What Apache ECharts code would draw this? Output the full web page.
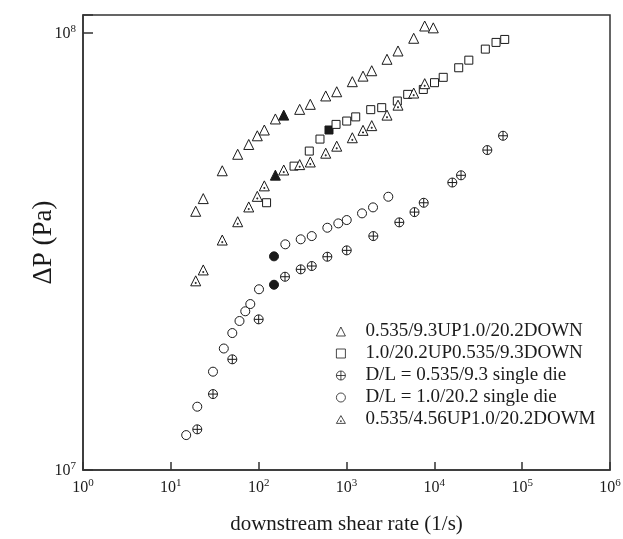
<!DOCTYPE html>
<html><head><meta charset="utf-8">
<script src="https://cdn.jsdelivr.net/npm/echarts@6/dist/echarts.min.js"></script>
<style>html,body{margin:0;padding:0;background:#fff}#c{width:623px;height:539px}</style>
</head><body><div id="c"></div><script>
// ---- data ----
const seriesNames = [
  '0.535/9.3UP1.0/20.2DOWN',
  '1.0/20.2UP0.535/9.3DOWN',
  'D/L = 0.535/9.3 single die',
  'D/L = 1.0/20.2 single die',
  '0.535/4.56UP1.0/20.2DOWM'
];
const xTickExponents = [0, 1, 2, 3, 4, 5, 6];
const yTickExponents = [7, 8];

const triX = [19.2,23.4,38.5,57.7,77.1,96.5,116,155,193,293,387,580,774,1165,1542,1937,2891,3857,5823,7767,9730];
const triY = [3.91e7,4.18e7,4.84e7,5.28e7,5.56e7,5.82e7,6.00e7,6.36e7,6.49e7,6.69e7,6.87e7,7.18e7,7.34e7,7.74e7,7.97e7,8.20e7,8.71e7,9.10e7,9.73e7,1.038e8,1.028e8];
const triFilled = 8;

const sqX = [123,253,377,499,632,760,1006,1273,1887,2517,3789,4977,7490,10050,12620,18950,24700,38060,50390,63280];
const sqY = [4.09e7,4.96e7,5.37e7,5.72e7,6.00e7,6.18e7,6.29e7,6.43e7,6.68e7,6.75e7,6.99e7,7.24e7,7.43e7,7.70e7,7.92e7,8.33e7,8.67e7,9.19e7,9.52e7,9.67e7];
const sqFilled = 4;

const crossX = [20,30.2,50.1,100,149.5,199.5,301,402,605,1006,2020,3993,5948,7570,16020,20130,40110,60530];
const crossY = [1.239e7,1.492e7,1.792e7,2.212e7,2.655e7,2.769e7,2.879e7,2.930e7,3.077e7,3.182e7,3.431e7,3.688e7,3.893e7,4.089e7,4.549e7,4.726e7,5.398e7,5.821e7];
const crossFilled = 4;

const circX = [14.96,20,30.2,40.1,50.1,60.5,70.4,80.3,100.9,149.5,201,301,402,605,807,1006,1502,2004,2992];
const circY = [1.202e7,1.396e7,1.679e7,1.897e7,2.058e7,2.193e7,2.308e7,2.398e7,2.592e7,3.083e7,3.285e7,3.373e7,3.431e7,3.585e7,3.668e7,3.733e7,3.867e7,3.991e7,4.221e7];
const circFilled = 9;

const dotTriX = [19.2,23.4,38.5,57.7,77.1,96.5,116,155,193,293,387,580,774,1165,1542,1937,2891,3857,5823,7767];
const dotTriY = [2.71e7,2.87e7,3.36e7,3.70e7,4.00e7,4.23e7,4.47e7,4.73e7,4.86e7,5.00e7,5.07e7,5.31e7,5.51e7,5.76e7,5.99e7,6.14e7,6.49e7,6.84e7,7.29e7,7.66e7];
const dotTriFilled = 7;

// ---- styling ----
const FONT = 'Liberation Serif';
const INK = '#1a1a1a';
const crossPath = 'path://M-10,0 A10,10 0 1,0 10,0 A10,10 0 1,0 -10,0 Z M-10,0 L10,0 M0,-10 L0,10';
const dotTriPath = 'path://M0,-10 L11,9 L-11,9 Z M-1,2.5 L1,2.5 L1,4.5 L-1,4.5 Z';

function pts(xs, ys, filled) {
  return xs.map((v, i) => i === filled
    ? { value: [v, ys[i]], itemStyle: { color: INK } }
    : { value: [v, ys[i]] });
}
function sc(name, symbol, size, xs, ys, filled) {
  return {
    type: 'scatter', name, symbol, symbolSize: size,
    data: pts(xs, ys, filled),
    itemStyle: { color: '#fff', borderColor: INK, borderWidth: 1, opacity: 1 },
    emphasis: { disabled: true }, silent: true
  };
}
function isPow10(v) { const l = Math.log10(v); return Math.abs(l - Math.round(l)) < 1e-6; }
const rich = {
  b: { fontFamily: FONT, fontSize: 16, color: INK, lineHeight: 18, verticalAlign: 'bottom' },
  s: { fontFamily: FONT, fontSize: 11, color: INK, lineHeight: 11, verticalAlign: 'top' }
};
function powLabel(exps) {
  return function (v) {
    if (!isPow10(v)) return '';
    const e = Math.round(Math.log10(v));
    if (exps.indexOf(e) < 0) return '';
    return '{b|10}{s|' + e + '}';
  };
}

const chart = echarts.init(document.getElementById('c'), null, { renderer: 'canvas' });
chart.setOption({
  backgroundColor: '#fff',
  animation: false,
  grid: { left: 83, right: 13, top: 15, bottom: 69, show: true, borderColor: '#333', borderWidth: 1.5,
          backgroundColor: 'transparent', outerBoundsMode: 'none', containLabel: false },
  xAxis: {
    type: 'log', logBase: 10, min: 1, max: 1e6,
    name: 'downstream shear rate (1/s)', nameLocation: 'middle', nameGap: 44,
    nameMoveOverlap: false,
    nameTextStyle: { fontFamily: FONT, fontSize: 21, color: INK },
    axisLine: { lineStyle: { color: '#333', width: 1.5 } },
    axisTick: { inside: true, length: 8, lineStyle: { color: '#333', width: 1.5 } },
    minorTick: { show: false }, splitLine: { show: false },
    axisLabel: { margin: 8, formatter: powLabel(xTickExponents), rich }
  },
  yAxis: {
    type: 'log', logBase: 10, min: 1e7, max: 1.1e8,
    name: 'ΔP (Pa)', nameLocation: 'middle', nameGap: 26, nameRotate: 90,
    nameMoveOverlap: false,
    nameTextStyle: { fontFamily: FONT, fontSize: 27, color: INK },
    axisLine: { lineStyle: { color: '#333', width: 1.5 } },
    axisTick: { inside: true, length: 10, lineStyle: { color: '#333', width: 1.5 } },
    minorTick: { show: false }, splitLine: { show: false },
    axisLabel: { margin: 7, formatter: powLabel(yTickExponents), rich }
  },
  legend: {
    orient: 'vertical', left: 331, top: 317,
    itemWidth: 9, itemHeight: 9, itemGap: 3,
    itemStyle: { borderWidth: 0.8 },
    textStyle: { fontFamily: FONT, fontSize: 19, color: INK, lineHeight: 18, padding: [0, 0, 0, 15] },
    selectedMode: false,
    data: seriesNames
  },
  series: [
    sc(seriesNames[0], 'triangle', 10, triX, triY, triFilled),
    sc(seriesNames[1], 'rect', 8, sqX, sqY, sqFilled),
    sc(seriesNames[2], crossPath, 9, crossX, crossY, crossFilled),
    sc(seriesNames[3], 'circle', 9, circX, circY, circFilled),
    sc(seriesNames[4], dotTriPath, 10, dotTriX, dotTriY, dotTriFilled)
  ]
});
</script></body></html>
